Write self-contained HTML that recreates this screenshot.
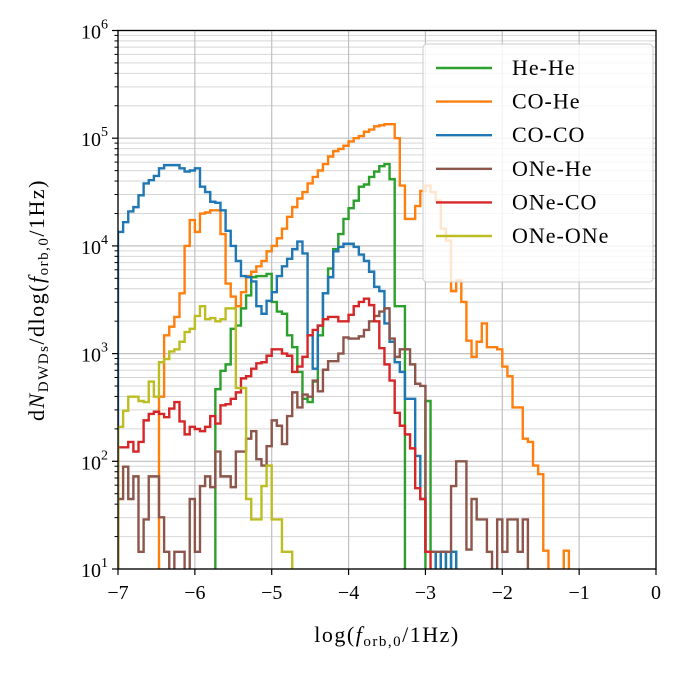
<!DOCTYPE html>
<html><head><meta charset="utf-8"><style>
html,body{margin:0;padding:0;background:#fff;}
svg{display:block;font-family:"Liberation Serif",serif;}
</style></head><body>
<svg id="chart" width="684" height="673" viewBox="0 0 684 673" xmlns="http://www.w3.org/2000/svg">
<defs><clipPath id="plotclip"><rect x="118" y="30.5" width="538" height="538.5"/></clipPath></defs>
<rect x="0" y="0" width="684" height="673" fill="#fff"/>
<g id="grid"></g>
<g id="series" clip-path="url(#plotclip)"></g>
<rect x="118" y="30.5" width="538" height="538.5" fill="none" stroke="#000" stroke-width="1.3"/>
<g id="ticks"></g>
<text x="387" y="642" font-size="22" letter-spacing="1.5" text-anchor="middle">log(<tspan font-style="italic">f</tspan><tspan font-size="15" dy="4">orb,0</tspan><tspan dy="-4">/1Hz)</tspan></text>
<text transform="translate(44,300) rotate(-90)" font-size="22" letter-spacing="1.5" text-anchor="middle">d<tspan font-style="italic">N</tspan><tspan font-size="15" dy="4">DWDs</tspan><tspan dy="-4">/dlog(</tspan><tspan font-style="italic">f</tspan><tspan font-size="15" dy="4">orb,0</tspan><tspan dy="-4">/1Hz)</tspan></text>
<g id="legend"></g>
</svg>
<script>
// bins: width 1/15 starting at log f = -7 ; values are log10(counts), 0 = empty bin
const binStart = -7;
const binWidth = 1/15;
const seriesNames = ["He-He","CO-He","CO-CO","ONe-He","ONe-CO","ONe-ONe"];
const seriesColors = ["#2ca02c","#ff7f0e","#1f77b4","#8c564b","#d62728","#bcbd22"];
const heHe = [0,0,0,0,0,0,0,0,0,0, 0,0,0,0,0,0,0,0,0,2.67, 2.84,2.90,3.23,3.26,3.42,3.54,3.71,3.72,3.72,3.74, 3.48,3.39,3.37,3.17,3.06,2.83,2.58,2.55,2.74,3.17, 3.56,3.79,3.97,4.11,4.25,4.35,4.42,4.55,4.57,4.64, 4.69,4.74,4.76,4.62,3.44,3.44,0,0,0,0, 2.56,1.16,0,1.16,0,1.16];
const coHe = [0,0,0,0,0,0,0,0,2.6,3.17, 3.25,3.34,3.56,4.0,4.24,4.13,4.30,4.31,4.33,4.33, 4.11,3.65,3.53,3.44,3.57,3.72,3.76,3.81,3.86,3.95, 4.0,4.07,4.16,4.27,4.36,4.44,4.50,4.58,4.64,4.70, 4.76,4.83,4.88,4.90,4.93,4.97,5.0,5.02,5.06,5.08, 5.11,5.12,5.13,5.13,5.0,4.56,4.25,4.25,4.37,4.51, 4.56,4.50,4.42,4.16,4.05,3.58,3.68,3.48,3.12,2.97, 3.11,3.28,3.06,3.06,3.04,2.88,2.79,2.5,2.5,2.21, 2.18,1.96,1.88,1.17,0,0,0,1.17];
const coCo = [4.13,4.22,4.32,4.36,4.47,4.58,4.61,4.65,4.72,4.75, 4.75,4.75,4.72,4.69,4.70,4.72,4.55,4.50,4.41,4.40, 4.33,4.14,4.0,3.86,3.72,3.71,3.67,3.44,3.37,3.49, 3.57,3.72,3.81,3.88,3.97,4.04,3.93,3.17,2.86,3.26, 3.56,3.71,3.95,3.99,4.02,4.02,3.99,3.92,3.86,3.76, 3.62,3.58,3.28,3.11,2.92,2.83,2.58,2.58,2.05,1.65, 1.16,1.16,0,1.16,0,1.16];
const oneHe = [1.65,1.95,1.65,1.86,1.16,1.46,1.86,1.86,1.48,1.16, 0,1.16,1.16,0,1.65,1.16,1.77,1.86,1.76,2.09, 1.86,1.86,1.76,2.09,2.09,2.21,2.28,2.02,1.96,2.14, 2.38,2.33,2.16,2.42,2.64,2.50,2.62,2.60,2.75,2.65, 2.85,2.93,2.93,3.0,3.15,3.14,3.14,3.16,3.22,3.30, 3.35,3.39,3.42,3.14,2.97,3.04,3.04,2.9,2.72,2.70, 1.16,1.16,1.16,1.16,1.16,1.77,2.0,2.0,1.18,1.65, 1.46,1.46,1.16,0,1.46,1.16,1.46,1.46,1.16,1.46];
const oneCo = [2.13,2.13,2.18,2.09,2.18,2.38,2.44,2.46,2.44,2.41, 2.49,2.55,2.37,2.25,2.32,2.30,2.28,2.32,2.42,2.35, 2.52,2.53,2.58,2.64,2.77,2.79,2.86,2.91,2.92,2.98, 3.04,3.04,3.0,2.98,2.83,2.88,2.97,3.17,3.22,3.26, 3.32,3.34,3.34,3.30,3.30,3.36,3.44,3.48,3.51,3.45, 3.30,3.05,2.90,2.75,2.45,2.33,2.25,2.12,1.75,1.65, 1.16];
const oneOne = [2.32,2.47,2.60,2.60,2.56,2.55,2.74,2.60,2.92,2.95, 3.02,3.04,3.11,3.20,3.23,3.35,3.44,3.32,3.33,3.30, 3.32,3.42,3.42,2.68,2.68,1.65,1.46,1.46,1.77,1.96, 1.46,1.46,1.16,1.16];
const seriesData = [heHe, coHe, coCo, oneHe, oneCo, oneOne];
const xTicks = [-7,-6,-5,-4,-3,-2,-1,0];
const xTickLabels = ["\u22127","\u22126","\u22125","\u22124","\u22123","\u22122","\u22121","0"];
const yDecades = [1,2,3,4,5,6];

const X0=118, X1=656, Y0=569, Y1=30.5;
const xMin=-7, xMax=0, yMin=1, yMax=6;
function xs(v){return X0+(v-xMin)/(xMax-xMin)*(X1-X0);}
function ys(lg){return Y0-(lg-yMin)/(yMax-yMin)*(Y0-Y1);}
const NS="http://www.w3.org/2000/svg";
function mk(tag,attrs,parent){const e=document.createElementNS(NS,tag);for(const k in attrs)e.setAttribute(k,attrs[k]);parent.appendChild(e);return e;}

const grid=document.getElementById('grid');
const ticks=document.getElementById('ticks');
for(let d=1; d<6; d++){
  for(let m=2;m<=9;m++){
    const y=ys(d+Math.log10(m));
    const g=mk('line',{x1:X0,x2:X1,y1:y,y2:y,stroke:'#d6d6d6','stroke-width':1},grid);
    
    
    const t=mk('line',{x1:X0-3.5,x2:X0,y1:y,y2:y,stroke:'#000','stroke-width':1},ticks);
    
    
  }
}
yDecades.forEach(d=>{
  const y=ys(d);
  const g=mk('line',{x1:X0,x2:X1,y1:y,y2:y,stroke:'#c0c0c0','stroke-width':1.2},grid);
  
  
  const t=mk('line',{x1:X0-6,x2:X0,y1:y,y2:y,stroke:'#000','stroke-width':1.2},ticks);
  
  
  const tx=mk('text',{x:X0-10,y:y+8,'font-size':20,'text-anchor':'end'},ticks);
  
  
  tx.appendChild(document.createTextNode('10'));
  const sp=mk('tspan',{'font-size':14,dy:-10},tx);
  sp.textContent=String(d);
});
xTicks.forEach((v,i)=>{
  const x=xs(v);
  const g=mk('line',{x1:x,x2:x,y1:Y0,y2:Y1,stroke:'#c0c0c0','stroke-width':1.2},grid);
  
  
  const t=mk('line',{x1:x,x2:x,y1:Y0,y2:Y0+6,stroke:'#000','stroke-width':1.2},ticks);
  
  
  const tx=mk('text',{x:x,y:Y0+30,'font-size':20,'text-anchor':'middle'},ticks);
  
  
  tx.textContent=xTickLabels[i];
});

const sg=document.getElementById('series');
seriesData.forEach((arr,si)=>{
  const low=Y0+20;
  let d='M'+xs(binStart).toFixed(2)+','+low;
  for(let i=0;i<arr.length;i++){
    const xa=xs(binStart+i*binWidth), xb=xs(binStart+(i+1)*binWidth);
    const y=arr[i]>0?ys(arr[i]):low;
    d+=' L'+xa.toFixed(2)+','+y.toFixed(2)+' L'+xb.toFixed(2)+','+y.toFixed(2);
  }
  d+=' L'+xs(binStart+arr.length*binWidth).toFixed(2)+','+low;
  const p=mk('path',{d:d,fill:'none',stroke:seriesColors[si],'stroke-width':2.4,'stroke-linejoin':'miter'},sg);
  
  
});

const lg=document.getElementById('legend');
const box=mk('rect',{x:423,y:44,width:230,height:238,rx:4,fill:'rgba(255,255,255,0.8)',stroke:'#cccccc','stroke-width':1},lg);


seriesNames.forEach((n,i)=>{
  const y=68+i*33.6;
  const ln=mk('line',{x1:436,x2:492,y1:y,y2:y,stroke:seriesColors[i],'stroke-width':2.4},lg);
  
  
  const t=mk('text',{x:512,y:y+7,'font-size':22,'letter-spacing':1},lg);
  
  
  t.textContent=n;
});
</script>
</body></html>
